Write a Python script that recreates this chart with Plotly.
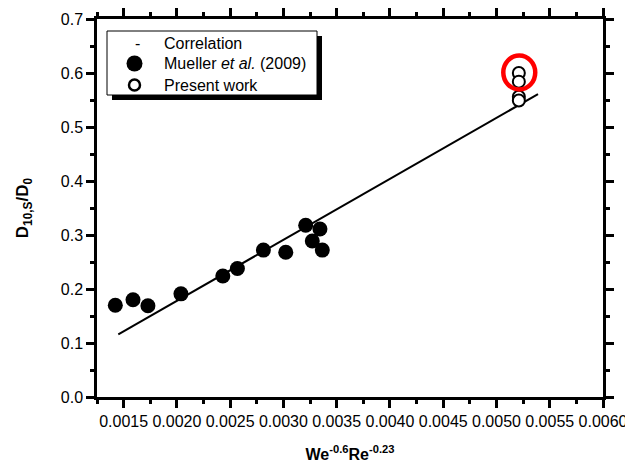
import plotly.graph_objects as go

# ---- data ----
mueller_x = [0.001422, 0.001588, 0.001728, 0.002038, 0.002431, 0.002568,
             0.002812, 0.003022, 0.003209, 0.003271, 0.003343, 0.003365]
mueller_y = [0.170, 0.180, 0.169, 0.191, 0.224, 0.238,
             0.272, 0.268, 0.318, 0.289, 0.311, 0.272]
present_x = [0.00521, 0.00521, 0.00521, 0.00521]
present_y = [0.600, 0.584, 0.556, 0.549]
corr_x = [0.00145, 0.00539]
corr_y = [0.116, 0.561]
highlight_x = 0.005214
highlight_y = 0.601

legend_labels = ["Correlation", "Mueller <i>et al.</i> (2009)", "Present work"]

FONT = "Liberation Sans"
W, H = 625, 466
L, R, T, B = 97, 22, 19, 69
PW, PH = W - L - R, H - T - B


def px(x):
    return (x - L) / PW


def py(y):
    return (H - B - y) / PH


fig = go.Figure()

fig.add_trace(go.Scatter(x=corr_x, y=corr_y, mode="lines",
                         line=dict(color="black", width=2), showlegend=False))
fig.add_trace(go.Scatter(x=mueller_x, y=mueller_y, mode="markers",
                         marker=dict(symbol="circle", size=15, color="black"),
                         showlegend=False))
fig.add_trace(go.Scatter(x=present_x, y=present_y, mode="markers",
                         marker=dict(symbol="circle", size=12, color="white",
                                     line=dict(color="black", width=2)),
                         showlegend=False))

shapes = []
# red highlight ellipse
shapes.append(dict(type="circle", xref="x", yref="y",
                   x0=highlight_x - 0.000150, x1=highlight_x + 0.000150,
                   y0=highlight_y - 0.0315, y1=highlight_y + 0.0315,
                   line=dict(color="#ff0000", width=4.5)))
# legend shadow and box
shapes.append(dict(type="rect", xref="paper", yref="paper",
                   x0=px(112), x1=px(322), y0=py(100), y1=py(36),
                   fillcolor="black", line=dict(width=0)))
shapes.append(dict(type="rect", xref="paper", yref="paper",
                   x0=px(107), x1=px(317), y0=py(95), y1=py(31),
                   fillcolor="white", line=dict(color="black", width=1)))
# legend markers
shapes.append(dict(type="circle", xref="paper", yref="paper",
                   xsizemode="pixel", ysizemode="pixel",
                   xanchor=px(134.5), yanchor=py(63.5),
                   x0=-8, x1=8, y0=-8, y1=8,
                   fillcolor="black", line=dict(width=0)))
shapes.append(dict(type="circle", xref="paper", yref="paper",
                   xsizemode="pixel", ysizemode="pixel",
                   xanchor=px(134.5), yanchor=py(85),
                   x0=-5.5, x1=5.5, y0=-5.5, y1=5.5,
                   fillcolor="white", line=dict(color="black", width=2.5)))

annotations = []
annotations.append(dict(text="-", xref="paper", yref="paper", x=px(137.5), y=py(43),
                        xanchor="center", yanchor="middle", showarrow=False,
                        font=dict(family=FONT, size=16, color="black")))
for lab, yy in zip(legend_labels, [43, 63.5, 85]):
    annotations.append(dict(text=lab, xref="paper", yref="paper", x=px(162), y=py(yy),
                            xanchor="left", yanchor="middle", showarrow=False,
                            font=dict(family=FONT, size=16, color="black")))

axis_common = dict(showline=True, linecolor="black", linewidth=2.5, mirror="allticks",
                   ticks="outside", ticklen=8, tickwidth=2.5, tickcolor="black",
                   showgrid=False, zeroline=False, automargin=False,
                   ticklabeloverflow="allow",
                   tickfont=dict(family=FONT, size=16, color="black"))

fig.update_layout(
    width=W, height=H,
    margin=dict(l=L, r=R, t=T, b=B),
    paper_bgcolor="white", plot_bgcolor="white",
    xaxis=dict(range=[0.00125, 0.0060], tick0=0.0015, dtick=0.0005,
               tickformat=".4f",
               minor=dict(ticks="outside", ticklen=4, tickwidth=2.5, tickcolor="black",
                          tick0=0.00125, dtick=0.0005, showgrid=False),
               title=dict(text="<b>We<sup>-0.6</sup>Re<sup>-0.23</sup></b>",
                          font=dict(family=FONT, size=16, color="black"), standoff=20),
               **axis_common),
    yaxis=dict(range=[0, 0.7], tick0=0, dtick=0.1, tickformat=".1f",
               minor=dict(ticks="outside", ticklen=4, tickwidth=2.5, tickcolor="black",
                          tick0=0.05, dtick=0.1, showgrid=False),
               title=dict(text="<b>D<sub>10,S</sub>/D<sub>0</sub></b>",
                          font=dict(family=FONT, size=17, color="black"), standoff=28),
               **axis_common),
    shapes=shapes,
    annotations=annotations,
    showlegend=False,
)

fig.write_html("out.html")
